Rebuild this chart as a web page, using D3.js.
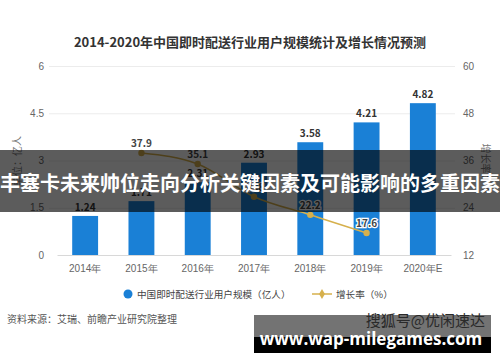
<!DOCTYPE html>
<html>
<head>
<meta charset="utf-8">
<script src="https://cdn.jsdelivr.net/npm/d3@7"></script>
<style>
  body{margin:0;background:#fff;}
  svg{display:block;font-family:"Noto Sans CJK SC","Noto Sans",sans-serif;}
</style>
</head>
<body>
<svg id="chart" width="500" height="362"></svg>
<script>
'use strict';
// data
const years = ['2014年','2015年','2016年','2017年','2018年','2019年','2020年E'];
const users = [1.24, 1.71, 2.31, 2.93, 3.58, 4.21, 4.82];
const rateYears = ['2015年','2016年','2017年','2018年','2019年'];
const rates = [37.9, 35.1, 26.8, 22.2, 17.6];
const leftTicks = [0, 1.5, 3, 4.5, 6];
const rightTicks = [12, 24, 36, 48, 60];

const title = '2014-2020年中国即时配送行业用户规模统计及增长情况预测';
const source = '资料来源：艾瑞、前瞻产业研究院整理';
const banner = '丰塞卡未来帅位走向分析关键因素及可能影响的多重因素';

const blue = '#1a80d6', gold = '#d6b04c';

const svg = d3.select('#chart');

const x = d3.scaleBand().domain(years).range([57, 451]).paddingInner(0.54).paddingOuter(0.27);
const y = d3.scaleLinear().domain([0, 6]).range([255, 66]);
const yR = d3.scaleLinear().domain([12, 60]).range([255, 66]);

svg.append('text').attr('x', 250).attr('y', 47).attr('text-anchor', 'middle')
  .attr('font-size', 13).attr('font-weight', 'bold').attr('fill', '#333').text(title);

// left axis + grid
const gl = svg.append('g').attr('transform', 'translate(49,0)')
  .call(d3.axisLeft(y).tickValues(leftTicks).tickFormat(d => d).tickSize(-406).tickPadding(5));
gl.select('.domain').remove();
gl.selectAll('line').attr('stroke', '#ececec');
gl.selectAll('text').attr('fill', '#666').attr('font-size', 10).attr('font-family', 'inherit');
gl.selectAll('.tick').filter(d => d === 0).select('line').remove();

// right axis
const gr = svg.append('g').attr('transform', 'translate(455,0)')
  .call(d3.axisRight(yR).tickValues(rightTicks).tickSize(0).tickPadding(8));
gr.select('.domain').remove();
gr.selectAll('text').attr('fill', '#666').attr('font-size', 10).attr('font-family', 'inherit');

// axis titles
svg.append('text').attr('transform', 'translate(21,161) rotate(-90)').attr('text-anchor', 'middle')
  .attr('font-size', 10).attr('fill', '#777').text('单位：亿人');
svg.append('text').attr('transform', 'translate(482,168) rotate(90)').attr('text-anchor', 'middle')
  .attr('font-size', 10).attr('fill', '#777').text('增长率：%');

// x axis
const gx = svg.append('g').attr('transform', 'translate(0,255)')
  .call(d3.axisBottom(x).tickSize(0).tickSizeOuter(0).tickPadding(10));
gx.select('.domain').attr('stroke', '#d8d8d8');
gx.selectAll('text').attr('fill', '#666').attr('font-size', 10).attr('font-family', 'inherit');

// bars
svg.append('g').selectAll('rect').data(users).join('rect')
  .attr('x', (d, i) => x(years[i])).attr('width', x.bandwidth())
  .attr('y', d => y(d)).attr('height', d => y(0) - y(d)).attr('fill', blue);

svg.append('g').selectAll('text').data(users).join('text')
  .attr('x', (d, i) => x(years[i]) + x.bandwidth() / 2).attr('y', d => y(d) - 5)
  .attr('text-anchor', 'middle').attr('font-size', 10).attr('fill', '#333').attr('font-weight', 'bold')
  .text(d => d.toFixed(2));

// growth line
const cx = (d, i) => x(rateYears[i]) + x.bandwidth() / 2;
const line = d3.line().x(cx).y(d => yR(d)).curve(d3.curveMonotoneX);
svg.append('path').datum(rates).attr('d', line).attr('fill', 'none').attr('stroke', gold).attr('stroke-width', 1.5);
svg.append('g').selectAll('circle').data(rates).join('circle')
  .attr('cx', cx).attr('cy', d => yR(d)).attr('r', 3.2).attr('fill', gold);
svg.append('g').selectAll('text').data(rates).join('text')
  .attr('x', cx).attr('y', d => yR(d) - 6).attr('text-anchor', 'middle')
  .attr('font-size', 10).attr('font-weight', 'bold').attr('fill', '#444')
  .attr('stroke', '#fff').attr('stroke-width', 2.5).attr('paint-order', 'stroke')
  .text(d => d.toFixed(1));

// legend
const lg = svg.append('g').attr('font-size', 9.6).attr('fill', '#444');
lg.append('circle').attr('cx', 128).attr('cy', 294).attr('r', 4.5).attr('fill', blue);
lg.append('text').attr('x', 137).attr('y', 298).text('中国即时配送行业用户规模（亿人）');
lg.append('line').attr('x1', 312).attr('x2', 332).attr('y1', 294).attr('y2', 294).attr('stroke', gold).attr('stroke-width', 1.5);
lg.append('path').attr('d', d3.symbol(d3.symbolDiamond, 30)()).attr('transform', 'translate(322,294)').attr('fill', gold);
lg.append('text').attr('x', 336).attr('y', 298).text('增长率（%）');

svg.append('text').attr('x', 7).attr('y', 323).attr('font-size', 10).attr('fill', '#555').text(source);

// overlay banner
svg.append('rect').attr('x', 0).attr('y', 150).attr('width', 500).attr('height', 62).attr('fill', 'rgba(0,0,0,0.64)');
svg.append('text').attr('x', 250).attr('y', 191).attr('text-anchor', 'middle')
  .attr('font-size', 20).attr('font-weight', 'bold').attr('fill', '#fff').text(banner);

// watermark box
svg.append('rect').attr('x', 254).attr('y', 315).attr('width', 237).attr('height', 22).attr('fill', 'rgba(0,0,0,0.55)');
svg.append('text').attr('x', 485).attr('y', 326).attr('text-anchor', 'end')
  .attr('font-size', 15).attr('fill', '#2a2a2a').text('搜狐号@优闲速达');
svg.append('rect').attr('x', 254).attr('y', 337).attr('width', 237).attr('height', 16).attr('fill', '#000');
svg.append('text').attr('x', 371).attr('y', 345).attr('text-anchor', 'middle')
  .attr('font-family', '"Open Sans",sans-serif').attr('font-size', 17).attr('font-weight', 'bold')
  .attr('fill', '#fff').text('www.wap-milegames.com');
</script>
</body>
</html>
